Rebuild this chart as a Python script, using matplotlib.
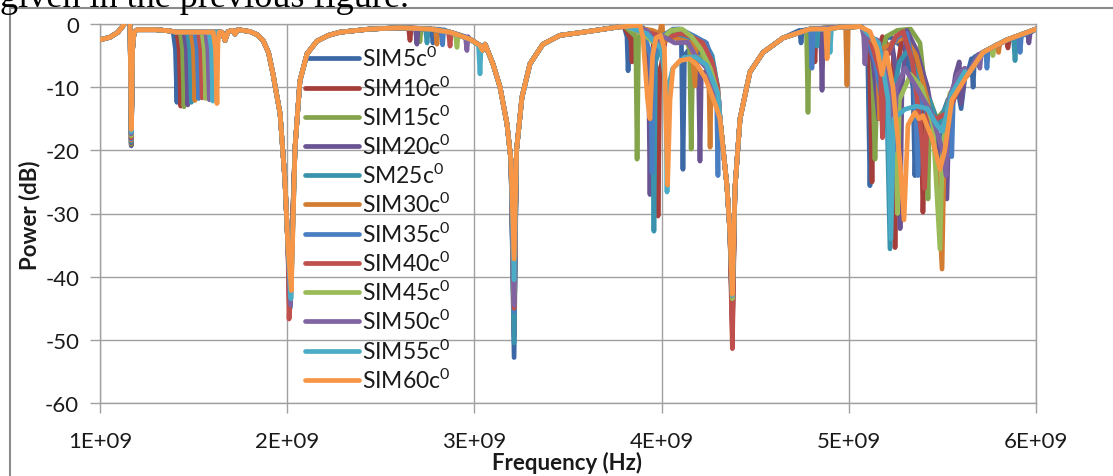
import matplotlib
matplotlib.use("Agg")
import matplotlib.pyplot as plt
from matplotlib.lines import Line2D

# ---- series names and colours -------------------------------------------
LABELS = ["SIM5c", "SIM10c", "SIM15c", "SIM20c", "SM25c", "SIM30c",
          "SIM35c", "SIM40c", "SIM45c", "SIM50c", "SIM55c", "SIM60c"]
COLORS = ["#3C69A6", "#A53E3B", "#84A44C", "#6A5392", "#3A93AD", "#D27D31",
          "#4A7EC3", "#C0504D", "#9BBB59", "#8064A2", "#4BACC6", "#F79646"]

# ---- common envelope (GHz, dB) ------------------------------------------
BASE_F = [1.000, 1.053, 1.096, 1.123, 1.144, 1.160, 1.174, 1.182, 1.200, 1.300,
          1.374, 1.406, 1.652, 1.668, 1.684, 1.710, 1.721, 1.737, 1.801, 1.840,
          1.871, 1.900, 1.924, 1.962, 1.988, 2.004, 2.042, 2.068, 2.106, 2.159,
          2.220, 2.282, 2.442, 2.603, 2.763, 2.870, 2.976, 3.030, 3.043, 3.057,
          3.099, 3.137, 3.174, 3.195, 3.225, 3.254, 3.297, 3.366, 3.457, 3.580,
          3.762, 3.885, 3.900, 3.925, 3.938, 3.952, 3.970, 3.995, 4.015, 4.032,
          4.045, 4.061, 4.098, 4.150, 4.190, 4.232, 4.259, 4.290, 4.312, 4.349,
          4.365, 4.392, 4.419, 4.472, 4.542, 4.649, 4.793, 4.953, 5.060, 5.113,
          5.151, 5.177, 5.200, 5.236, 5.274, 5.295, 5.316, 5.353, 5.375, 5.396,
          5.444, 5.487, 5.513, 5.551, 5.631, 5.717, 5.845, 6.000]
BASE_DB = [-2.5, -2.1, -1.3, -0.3, 0.8, 1.0, -4.0, -1.3, -0.9, -0.9,
           -1.1, -1.3, -1.3, -2.6, -1.2, -1.0, -1.6, -0.9, -1.2, -1.7,
           -2.6, -4.5, -7.9, -14.2, -24.8, -35.3, -19.5, -9.0, -4.7, -2.7,
           -1.8, -1.3, -0.8, -0.6, -0.8, -1.3, -2.4, -3.4, -4.2, -3.2,
           -6.3, -10.0, -15.8, -21.5, -20.0, -11.6, -6.3, -3.2, -1.8, -1.3,
           -0.5, -0.2, -2.0, -12.0, -15.0, -5.0, -2.2, -1.8, -4.0, -25.5,
           -12.0, -7.0, -5.8, -5.5, -6.5, -8.5, -10.5, -13.0, -15.0, -25.6,
           -33.0, -26.0, -15.0, -7.6, -4.5, -2.2, -0.8, -0.5, -0.4, -1.2,
           -4.0, -8.0, -4.5, -10.0, -22.0, -31.0, -16.0, -14.0, -15.0, -14.5,
           -18.0, -23.0, -20.0, -12.0, -8.2, -4.5, -2.5, -0.8]

# ---- nulls shared by all traces (bottom value per series) ---------------
NULL1_F = 1.167
NULL1_DB = [-19.3, -19.1, -19.0, -18.8, -18.6, -18.4, -18.2, -18.0, -17.7, -17.4, -17.1, -16.7]
NULL2_F = [2.014, 2.012, 2.016, 2.013, 2.017, 2.016, 2.015, 2.010, 2.019, 2.018, 2.020, 2.022]
NULL2_DB = [-44.0, -45.0, -43.5, -45.5, -44.5, -44.0, -45.0, -46.7, -43.0, -44.5, -43.5, -42.2]
NULL3_F = 3.212
NULL3_DB = [-52.8, -49.0, -48.0, -49.5, -50.5, -45.0, -45.5, -45.0, -43.0, -44.5, -40.5, -37.2]
NULL4_F = 4.378
NULL4_DB = [-48.0, -49.0, -47.0, -47.0, -46.0, -46.0, -44.5, -51.4, -43.5, -43.0, -43.0, -42.8]

# ---- shifting resonance near 1.4-1.6 GHz --------------------------------
DIP14_F = [1.411, 1.431, 1.449, 1.469, 1.488, 1.507, 1.527, 1.546, 1.565, 1.584, 1.603, 1.625]
DIP14_DB = [-12.4, -13.0, -13.1, -12.8, -12.4, -12.1, -11.8, -11.7, -11.8, -12.0, -12.2, -12.6]
DIP14_SHAPE = [(-0.020, -1.3), (-0.008, -4.0), (0.005, -3.0), (0.012, -1.3)]

# ---- small notches 2.6-3.05 GHz (SIM5..SIM55) ---------------------------
NOTCH_F = [2.779, 2.656, 2.709, 2.693, 2.747, 2.800, 2.830, 2.870, 2.907, 2.960, 3.030]
NOTCH_DB = [-3.0, -2.6, -2.8, -3.2, -3.0, -3.2, -3.3, -3.5, -3.7, -4.2, -7.9]
NOTCH_EDGE = [-0.8, -0.6, -0.7, -0.7, -0.8, -0.8, -0.9, -1.3, -1.6, -2.0, -3.4]

# ---- 3.8-4.3 GHz region, per series -------------------------------------
R4_SIM5 = [(3.80, -0.4), (3.815, -2.0), (3.821, -7.4), (3.828, -1.5), (3.90, -0.6), (3.94, -1.5),
           (3.99, -2.0), (4.05, -1.2), (4.09, -0.8), (4.106, -3.0), (4.114, -23.0), (4.122, -5.0),
           (4.16, -3.5), (4.22, -5.0), (4.27, -8.5), (4.30, -12.0)]
R4_SIM10 = [(3.80, -0.4), (3.836, -2.5), (3.842, -6.0), (3.850, -1.0), (3.95, -2.0), (3.975, -8.0),
            (3.981, -30.4), (3.990, -8.0), (4.02, -2.5), (4.08, -1.5), (4.14, -2.2), (4.20, -3.5),
            (4.26, -6.5), (4.30, -11.0)]
R4_SIM15 = [(3.80, -0.3), (3.862, -2.0), (3.869, -21.4), (3.877, -2.0), (3.92, -1.0), (4.00, -3.0),
            (4.06, -1.5), (4.11, -1.0), (4.15, -4.0), (4.158, -19.8), (4.166, -6.0), (4.22, -5.0),
            (4.27, -8.0), (4.30, -12.0)]
R4_SIM20 = [(3.80, -0.3), (3.90, -0.8), (3.930, -5.0), (3.938, -27.0), (3.946, -5.0), (3.99, -2.0),
            (4.06, -2.0), (4.13, -2.5), (4.18, -4.0), (4.198, -9.0), (4.205, -21.7), (4.212, -8.0),
            (4.26, -7.0), (4.30, -12.0)]
R4_SIM25 = [(3.80, -0.3), (3.90, -1.0), (3.951, -6.0), (3.959, -32.8), (3.967, -6.0), (4.01, -2.5),
            (4.08, -2.0), (4.15, -2.2), (4.23, -2.8), (4.27, -5.0), (4.30, -10.0)]
R4_SIM30 = [(3.80, -0.3), (3.95, -1.0), (3.99, -1.5), (4.002, 0.5), (4.010, -3.0), (4.05, -2.0),
            (4.10, -2.5), (4.16, -3.0), (4.178, -9.8), (4.186, -3.0), (4.23, -3.5), (4.252, -8.0),
            (4.259, -19.5), (4.266, -8.0), (4.30, -11.0)]
R4_SIM35 = [(3.80, -0.4), (3.90, -1.0), (3.942, -5.0), (3.949, -23.5), (3.956, -5.0), (4.00, -2.0),
            (4.06, -0.8), (4.10, -0.8), (4.18, -2.0), (4.24, -3.0), (4.28, -7.0), (4.294, -12.0),
            (4.301, -24.0), (4.306, -12.0)]
R4_SIM40 = [(3.80, -0.3), (3.90, -1.0), (4.00, -2.0), (4.05, -2.0), (4.10, -1.5), (4.16, -2.0),
            (4.22, -3.0), (4.27, -6.0), (4.30, -10.0)]
R4_SIM45 = [(3.80, -0.3), (3.90, -1.5), (3.96, -3.0), (4.00, -2.5), (4.05, -1.0), (4.11, -0.8),
            (4.16, -2.0), (4.21, -4.0), (4.26, -7.0), (4.30, -11.0)]
R4_SIM50 = [(3.80, -0.3), (3.92, -1.0), (3.97, -3.0), (4.01, -2.0), (4.07, -3.0), (4.14, -2.9),
            (4.18, -5.0), (4.24, -7.0), (4.30, -12.0)]
R4_SIM55 = [(3.80, -0.3), (3.92, -1.5), (4.00, -4.0), (4.022, -10.0), (4.029, -26.6), (4.036, -10.0),
            (4.06, -7.0), (4.12, -5.3), (4.18, -5.2), (4.24, -6.5), (4.30, -11.0)]

# ---- 5.07-5.62 GHz region, per series -----------------------------------
R6_SIM5 = [(5.07, -0.5), (5.10, -3.0), (5.113, -25.6), (5.125, -8.0), (5.16, -3.0), (5.22, -2.0),
           (5.30, -4.0), (5.343, -10.0), (5.353, -24.0), (5.365, -12.0), (5.42, -15.0), (5.48, -19.0),
           (5.53, -15.0), (5.58, -10.0), (5.60, -13.4), (5.62, -8.5)]
R6_SIM10 = [(5.07, -0.5), (5.11, -4.0), (5.124, -25.0), (5.135, -6.0), (5.18, -2.0), (5.238, -5.0),
            (5.247, -35.4), (5.256, -8.0), (5.29, -1.0), (5.33, -3.0), (5.385, -12.0), (5.396, -29.8),
            (5.41, -15.0), (5.47, -17.0), (5.53, -12.0), (5.62, -8.0)]
R6_SIM15 = [(5.07, -0.5), (5.125, -5.0), (5.14, -21.4), (5.152, -8.0), (5.20, -2.0), (5.26, -1.0),
            (5.33, -0.8), (5.38, -3.0), (5.413, -12.0), (5.423, -27.7), (5.433, -12.0), (5.47, -15.0),
            (5.53, -13.0), (5.62, -8.0)]
R6_SIM20 = [(5.07, -0.5), (5.10, -2.0), (5.13, -6.0), (5.16, -15.0), (5.17, -6.0), (5.23, -3.0),
            (5.265, -10.0), (5.274, -32.4), (5.284, -10.0), (5.31, -1.0), (5.36, -4.0), (5.42, -10.0),
            (5.48, -20.0), (5.524, -27.7), (5.535, -15.0), (5.57, -8.0), (5.59, -6.0), (5.60, -12.6),
            (5.62, -8.0)]
R6_SIM25 = [(5.07, -0.5), (5.12, -3.0), (5.20, -8.0), (5.220, -35.6), (5.235, -12.0), (5.27, -6.0),
            (5.32, -4.0), (5.38, -10.0), (5.43, -12.0), (5.48, -16.0), (5.53, -12.0), (5.62, -8.0)]
R6_SIM30 = [(5.07, -0.5), (5.10, -1.5), (5.15, -4.0), (5.165, -15.0), (5.175, -4.0), (5.24, -3.0),
            (5.30, -2.0), (5.36, -5.0), (5.42, -12.0), (5.47, -22.0), (5.498, -38.8), (5.51, -20.0),
            (5.55, -12.0), (5.62, -8.0)]
R6_SIM35 = [(5.07, -0.5), (5.10, -2.0), (5.14, -6.0), (5.19, -14.0), (5.20, -5.0), (5.26, -2.0),
            (5.31, -1.5), (5.35, -8.0), (5.370, -24.0), (5.38, -10.0), (5.43, -16.0), (5.49, -18.0),
            (5.55, -21.0), (5.56, -10.0), (5.62, -7.0)]
R6_SIM40 = [(5.07, -0.5), (5.12, -3.0), (5.17, -8.0), (5.18, -18.0), (5.19, -6.0), (5.25, -2.0),
            (5.29, -1.2), (5.34, -6.0), (5.39, -18.0), (5.405, -26.0), (5.42, -14.0), (5.47, -15.0),
            (5.53, -14.0), (5.62, -8.0)]
R6_SIM45 = [(5.07, -0.5), (5.14, -3.0), (5.20, -6.0), (5.25, -12.0), (5.26, -30.0), (5.27, -12.0),
            (5.33, -8.0), (5.39, -10.0), (5.45, -16.0), (5.487, -35.6), (5.50, -20.0), (5.54, -11.0),
            (5.62, -8.0)]
R6_SIM50 = [(5.07, -0.5), (5.08, -2.0), (5.086, -6.3), (5.095, -2.0), (5.15, -2.5), (5.21, -8.0),
            (5.24, -20.0), (5.255, -10.0), (5.30, -7.0), (5.36, -10.0), (5.44, -14.0), (5.50, -20.0),
            (5.52, -24.0), (5.535, -12.0), (5.58, -8.0), (5.62, -7.0)]
R6_SIM55 = [(5.07, -0.5), (5.10, -1.5), (5.16, -3.0), (5.21, -12.0), (5.225, -34.0), (5.24, -15.0),
            (5.30, -13.5), (5.36, -13.0), (5.42, -13.4), (5.47, -16.0), (5.50, -17.0), (5.55, -11.0),
            (5.62, -7.5)]

R4 = [R4_SIM5, R4_SIM10, R4_SIM15, R4_SIM20, R4_SIM25, R4_SIM30,
      R4_SIM35, R4_SIM40, R4_SIM45, R4_SIM50, R4_SIM55, None]
R6 = [R6_SIM5, R6_SIM10, R6_SIM15, R6_SIM20, R6_SIM25, R6_SIM30,
      R6_SIM35, R6_SIM40, R6_SIM45, R6_SIM50, R6_SIM55, None]

# ---- isolated small dips (series index, points) -------------------------
EXTRA_DIPS = [
    (0, [(4.737, -1.0), (4.745, -3.0), (4.752, -1.0)]),
    (2, [(4.774, -1.0), (4.782, -14.0), (4.790, -1.0)]),
    (6, [(4.796, -1.0), (4.803, -7.0), (4.810, -1.0)]),
    (1, [(4.812, -1.0), (4.819, -6.0), (4.826, -1.0)]),
    (4, [(4.823, -0.9), (4.830, -3.5), (4.837, -0.9)]),
    (3, [(4.850, -0.9), (4.857, -10.5), (4.864, -0.9)]),
    (11, [(4.876, -0.8), (4.884, -5.5), (4.892, -0.8)]),
    (10, [(4.893, -0.8), (4.900, -4.5), (4.907, -0.8)]),
    (5, [(4.983, -0.6), (4.990, -9.7), (4.997, -0.6)]),
    (0, [(5.655, -5.5), (5.664, -10.0), (5.672, -5.2)]),
    (9, [(5.692, -4.8), (5.700, -7.0), (5.708, -4.6)]),
    (6, [(5.731, -4.2), (5.738, -7.0), (5.746, -4.0)]),
    (8, [(5.763, -3.7), (5.770, -5.0), (5.777, -3.5)]),
    (5, [(5.793, -3.2), (5.800, -4.5), (5.807, -3.1)]),
    (1, [(5.843, -2.6), (5.850, -3.8), (5.857, -2.5)]),
    (4, [(5.880, -2.2), (5.888, -5.8), (5.896, -2.1)]),
    (6, [(5.908, -2.0), (5.915, -4.5), (5.922, -1.9)]),
    (3, [(5.955, -1.5), (5.962, -3.0), (5.969, -1.4)]),
]

X_TICKS = [1e9, 2e9, 3e9, 4e9, 5e9, 6e9]
X_TICK_LABELS = ["1E+09", "2E+09", "3E+09", "4E+09", "5E+09", "6E+09"]
Y_TICKS = [0, -10, -20, -30, -40, -50, -60]
Y_TICK_LABELS = ["0", "-10", "-20", "-30", "-40", "-50", "-60"]

GRID = "#A0A0A0"
TEXT = "#1A1A1A"


def merge(segments):
    pts = list(zip(BASE_F, BASE_DB))
    for seg in segments:
        lo, hi = seg[0][0], seg[-1][0]
        if hi > lo:
            pts = [p for p in pts if not (lo <= p[0] <= hi)]
        pts.extend(seg)
    pts.sort()
    return [p[0] * 1e9 for p in pts], [p[1] for p in pts]


def series_segments(i):
    segs = []
    f = DIP14_F[i]
    segs.append([(f + DIP14_SHAPE[0][0], DIP14_SHAPE[0][1]),
                 (f + DIP14_SHAPE[1][0], DIP14_SHAPE[1][1]),
                 (f, DIP14_DB[i]),
                 (f + DIP14_SHAPE[2][0], DIP14_SHAPE[2][1]),
                 (f + DIP14_SHAPE[3][0], DIP14_SHAPE[3][1])])
    if i < len(NOTCH_F):
        nf = NOTCH_F[i]
        segs.append([(nf - 0.008, NOTCH_EDGE[i]), (nf, NOTCH_DB[i]), (nf + 0.006, NOTCH_EDGE[i])])
    if R4[i] is not None:
        segs.append(R4[i])
    if R6[i] is not None:
        segs.append(R6[i])
    for idx, pts in EXTRA_DIPS:
        if idx == i:
            segs.append(pts)
    segs.append([(NULL1_F, NULL1_DB[i])])
    segs.append([(NULL2_F[i], NULL2_DB[i])])
    segs.append([(NULL3_F, NULL3_DB[i])])
    segs.append([(NULL4_F, NULL4_DB[i])])
    return segs


plt.rcParams["font.family"] = ["Lato", "DejaVu Sans"]
plt.rcParams["mathtext.fontset"] = "custom"
plt.rcParams["mathtext.rm"] = "Lato"
plt.rcParams["mathtext.default"] = "regular"
plt.rcParams["axes.unicode_minus"] = False

fig = plt.figure(figsize=(11.13, 4.77), dpi=100)
ax = fig.add_axes([100 / 1113, 73 / 477, 936 / 1113, 379 / 477])

for i, label in enumerate(LABELS):
    xs, ys = merge(series_segments(i))
    ax.plot(xs, ys, color=COLORS[i], lw=3.4, solid_joinstyle="round",
            solid_capstyle="round", label=label + "$^{0}$", zorder=3 + i)

ax.set_xlim(1e9, 6e9)
ax.set_ylim(-60, 0)
ax.set_xticks(X_TICKS)
ax.set_xticklabels(X_TICK_LABELS)
ax.set_yticks(Y_TICKS)
ax.set_yticklabels(Y_TICK_LABELS)
ax.grid(True, color=GRID, lw=1.0)
ax.set_axisbelow(True)
for side in ax.spines.values():
    side.set_color(GRID)
    side.set_linewidth(1.0)
ax.tick_params(axis="both", length=7, width=1.0, color=GRID, labelcolor=TEXT, labelsize=16)
ax.tick_params(axis="y", pad=8)
ax.tick_params(axis="x", pad=13)

ax.set_xlabel("Frequency (Hz)", fontsize=16, fontweight="bold", color=TEXT)
ax.set_ylabel("Power (dB)", fontsize=16, fontweight="bold", color=TEXT)
ax.xaxis.set_label_coords(0.499, -0.156)
ax.yaxis.set_label_coords(-0.075, 0.499)
ax.xaxis.label.set_va("center")
ax.yaxis.label.set_va("center")

leg = ax.legend(loc="upper left", bbox_to_anchor=((305 - 100) / 936, (404 - 47) / 379),
                frameon=False, fontsize=16.5, handlelength=2.35, handletextpad=0.15,
                labelspacing=0.215, borderpad=0.0, borderaxespad=0.0)
for h in leg.get_lines():
    h.set_linewidth(3.4)
for t in leg.get_texts():
    t.set_color(TEXT)

# outer chart frame and the caption line cut off above it
fx = 10 / 1113
fy = 1 - 9 / 477
fig.add_artist(Line2D([fx, fx], [0, fy], transform=fig.transFigure, color="#8C8C8C", lw=1.5))
fig.add_artist(Line2D([fx, 1], [fy, fy], transform=fig.transFigure, color="#8C8C8C", lw=1.5))
fig.text(0.0, 1 - 7 / 477, "given in the previous figure.", family="Liberation Serif",
         fontsize=26, va="baseline", ha="left", color="black")

fig.savefig("out.png", dpi=100)
